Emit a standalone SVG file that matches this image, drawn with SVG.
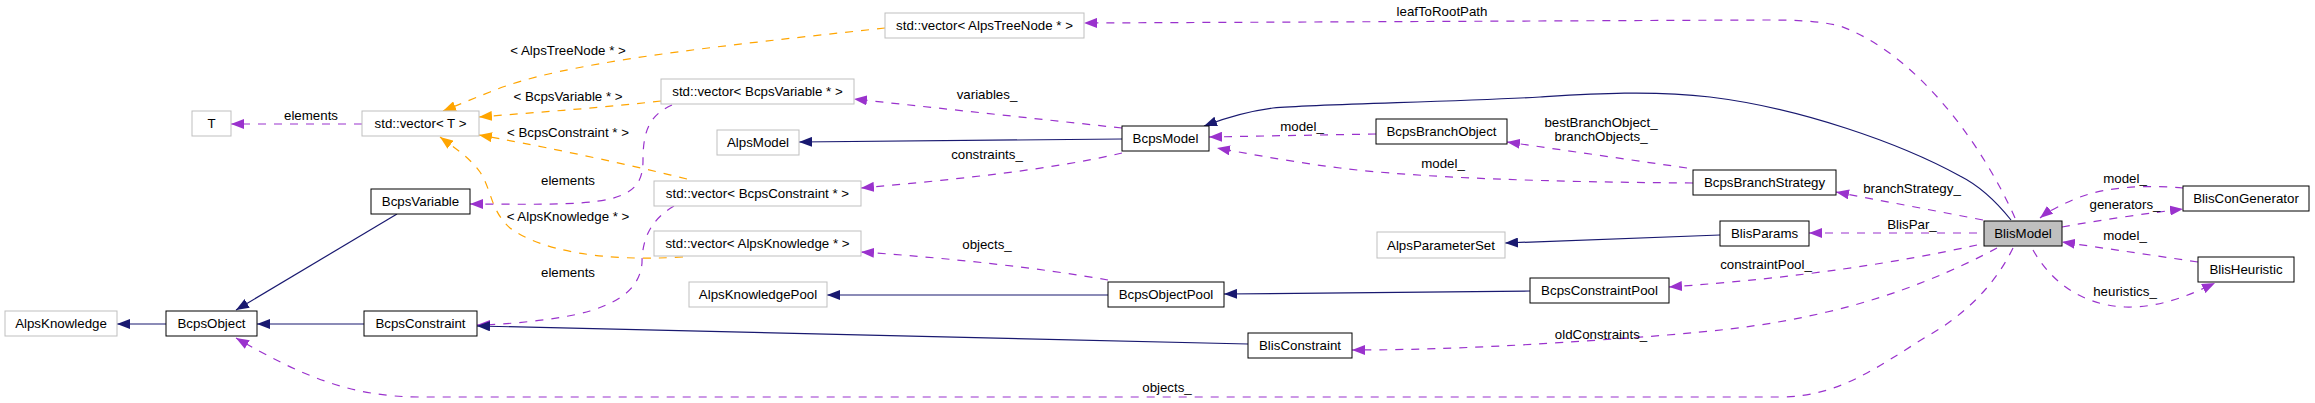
<svg xmlns="http://www.w3.org/2000/svg" width="2315" height="403" viewBox="0 0 2315 403">
<style>
text{font-family:"Liberation Sans",Arial,Helvetica,sans-serif;font-size:13.3px;fill:#000;text-anchor:middle}
.n rect{fill:#fff;stroke:#000;stroke-width:1}
.g rect{fill:#fff;stroke:#bfbfbf;stroke-width:1}
.h rect{fill:#bfbfbf;stroke:#000;stroke-width:1}
.inh{fill:none;stroke:#191970;stroke-width:1.2;marker-end:url(#an)}
.use{fill:none;stroke:#9a32cd;stroke-width:1.2;stroke-dasharray:8,8;marker-end:url(#ap)}
.tpl{fill:none;stroke:#ffa500;stroke-width:1.2;stroke-dasharray:8,8;marker-end:url(#ao)}
</style>
<defs>
<marker id="an" viewBox="0 0 13 10" refX="13" refY="5" markerWidth="13" markerHeight="10" markerUnits="userSpaceOnUse" orient="auto"><path d="M0,0 L13,5 L0,10 z" fill="#191970"/></marker>
<marker id="ap" viewBox="0 0 13 10" refX="13" refY="5" markerWidth="13" markerHeight="10" markerUnits="userSpaceOnUse" orient="auto"><path d="M0,0 L13,5 L0,10 z" fill="#9a32cd"/></marker>
<marker id="ao" viewBox="0 0 13 10" refX="13" refY="5" markerWidth="13" markerHeight="10" markerUnits="userSpaceOnUse" orient="auto"><path d="M0,0 L13,5 L0,10 z" fill="#ffa500"/></marker>
</defs>
<rect width="2315" height="403" fill="#fff"/>
<g id="connectors">
<path class="use" d="M362,124 L231,124"/>
<text x="311" y="120">elements</text>
<path class="tpl" d="M885,28 C720,46 560,62 490,92 Q460,104 443,111"/>
<text x="568" y="55">&lt; AlpsTreeNode * &gt;</text>
<path class="tpl" d="M661,101 C600,108 540,112 479,117"/>
<text x="568" y="101">&lt; BcpsVariable * &gt;</text>
<path class="tpl" d="M687,179 C610,160 530,144 479,135"/>
<text x="568" y="137">&lt; BcpsConstraint * &gt;</text>
<path class="tpl" d="M683,257 C600,262 540,250 510,228 C490,210 492,190 480,172 C470,158 455,148 440,137"/>
<text x="568" y="221">&lt; AlpsKnowledge * &gt;</text>
<path class="use" d="M672,105 C650,115 643,130 643,160 C643,180 637,192 610,199 C580,206 520,204 470,204"/>
<text x="568" y="185">elements</text>
<path class="use" d="M674,206 C650,220 642,240 642,263 C640,285 625,300 590,311 C560,320 500,325 477,325"/>
<text x="568" y="277">elements</text>
<path class="inh" d="M397,214 L236,310"/>
<path class="inh" d="M166,324 L117,324"/>
<path class="inh" d="M364,324 L257,324"/>
<path class="inh" d="M1248,344 L477,326"/>
<path class="use" d="M2013,248 C1995,285 1965,315 1926,337 C1880,365 1840,397 1780,397 L420,397 C350,397 300,375 236,338"/>
<text x="1167" y="392">objects_</text>
<path class="use" d="M2015,218 C1985,150 1920,55 1840,26 C1815,20 1790,20 1760,20 L1084,23"/>
<text x="1442" y="16">leafToRootPath</text>
<path class="inh" d="M2011,220 C1995,200 1980,186 1960,176 C1900,143 1800,108 1710,97 C1650,90 1590,94 1540,97 C1450,102 1320,104 1273,108 C1250,111 1225,118 1204,126"/>
<path class="inh" d="M1122,139 L799,142"/>
<path class="use" d="M1122,128 L854,99"/>
<text x="987" y="99">variables_</text>
<path class="use" d="M1122,153 C1050,170 950,180 861,188"/>
<text x="987" y="159">constraints_</text>
<path class="use" d="M1376,134 L1209,137"/>
<text x="1302" y="131">model_</text>
<path class="use" d="M1693,183 C1550,182 1420,178 1340,168 C1300,163 1260,156 1217,148"/>
<text x="1443" y="168">model_</text>
<path class="use" d="M1687,168 L1507,142"/>
<text x="1601" y="127">bestBranchObject_</text>
<text x="1601" y="141">branchObjects_</text>
<path class="inh" d="M1720,235 L1505,243"/>
<path class="inh" d="M1108,295 L827,295"/>
<path class="use" d="M1108,280 C1040,268 950,258 861,252"/>
<text x="987" y="249">objects_</text>
<path class="inh" d="M1530,291 L1224,294"/>
<path class="use" d="M1983,220 L1836,192"/>
<text x="1912" y="193">branchStrategy_</text>
<path class="use" d="M1977,233 L1809,233"/>
<text x="1912" y="229">BlisPar_</text>
<path class="use" d="M1977,245 C1900,262 1800,278 1669,287"/>
<text x="1766" y="269">constraintPool_</text>
<path class="use" d="M1997,248 C1960,268 1900,295 1827,312 C1760,328 1700,333 1600,340 C1500,347 1420,350 1352,350"/>
<text x="1601" y="339">oldConstraints_</text>
<path class="use" d="M2183,188 C2150,185 2110,186 2080,197 C2065,203 2050,210 2040,218"/>
<text x="2125" y="183">model_</text>
<path class="use" d="M2062,227 C2100,220 2150,213 2183,209"/>
<text x="2125" y="209">generators_</text>
<path class="use" d="M2198,262 L2062,242"/>
<text x="2125" y="240">model_</text>
<path class="use" d="M2033,250 C2050,280 2080,305 2125,307 C2160,308 2190,295 2215,283"/>
<text x="2125" y="296">heuristics_</text>
</g>
<g id="AlpsKnowledge" class="g"><rect x="5" y="311" width="112" height="25"/><text x="61" y="328">AlpsKnowledge</text></g>
<g id="BcpsObject" class="n"><rect x="166" y="311" width="91" height="25"/><text x="211.5" y="328">BcpsObject</text></g>
<g id="BcpsVariable" class="n"><rect x="371" y="189" width="99" height="25"/><text x="420.5" y="206">BcpsVariable</text></g>
<g id="BcpsConstraint" class="n"><rect x="364" y="311" width="113" height="25"/><text x="420.5" y="328">BcpsConstraint</text></g>
<g id="T" class="g"><rect x="192" y="111" width="39" height="25"/><text x="211.5" y="128">T</text></g>
<g id="vectorT" class="g"><rect x="362" y="111" width="117" height="25"/><text x="420.5" y="128">std::vector&lt; T &gt;</text></g>
<g id="vectorAlpsTreeNode" class="g"><rect x="885" y="13" width="199" height="25"/><text x="984.5" y="30">std::vector&lt; AlpsTreeNode * &gt;</text></g>
<g id="vectorBcpsVariable" class="g"><rect x="661" y="79" width="193" height="25"/><text x="757.5" y="96">std::vector&lt; BcpsVariable * &gt;</text></g>
<g id="AlpsModel" class="g"><rect x="717" y="130" width="82" height="25"/><text x="758" y="147">AlpsModel</text></g>
<g id="vectorBcpsConstraint" class="g"><rect x="654" y="181" width="207" height="25"/><text x="757.5" y="198">std::vector&lt; BcpsConstraint * &gt;</text></g>
<g id="vectorAlpsKnowledge" class="g"><rect x="654" y="231" width="207" height="25"/><text x="757.5" y="248">std::vector&lt; AlpsKnowledge * &gt;</text></g>
<g id="AlpsKnowledgePool" class="g"><rect x="689" y="282" width="138" height="25"/><text x="758" y="299">AlpsKnowledgePool</text></g>
<g id="BcpsModel" class="n"><rect x="1122" y="126" width="87" height="25"/><text x="1165.5" y="143">BcpsModel</text></g>
<g id="BcpsObjectPool" class="n"><rect x="1108" y="282" width="116" height="25"/><text x="1166" y="299">BcpsObjectPool</text></g>
<g id="BcpsBranchObject" class="n"><rect x="1376" y="119" width="131" height="25"/><text x="1441.5" y="136">BcpsBranchObject</text></g>
<g id="AlpsParameterSet" class="g"><rect x="1377" y="232" width="128" height="26"/><text x="1441" y="250">AlpsParameterSet</text></g>
<g id="BcpsConstraintPool" class="n"><rect x="1530" y="278" width="139" height="25"/><text x="1599.5" y="295">BcpsConstraintPool</text></g>
<g id="BlisConstraint" class="n"><rect x="1248" y="333" width="104" height="25"/><text x="1300" y="350">BlisConstraint</text></g>
<g id="BcpsBranchStrategy" class="n"><rect x="1693" y="170" width="143" height="25"/><text x="1764.5" y="187">BcpsBranchStrategy</text></g>
<g id="BlisParams" class="n"><rect x="1720" y="221" width="89" height="25"/><text x="1764.5" y="238">BlisParams</text></g>
<g id="BlisModel" class="h"><rect x="1984" y="221" width="78" height="25"/><text x="2023" y="238">BlisModel</text></g>
<g id="BlisConGenerator" class="n"><rect x="2183" y="186" width="126" height="25"/><text x="2246" y="203">BlisConGenerator</text></g>
<g id="BlisHeuristic" class="n"><rect x="2198" y="257" width="96" height="25"/><text x="2246" y="274">BlisHeuristic</text></g>
</svg>
